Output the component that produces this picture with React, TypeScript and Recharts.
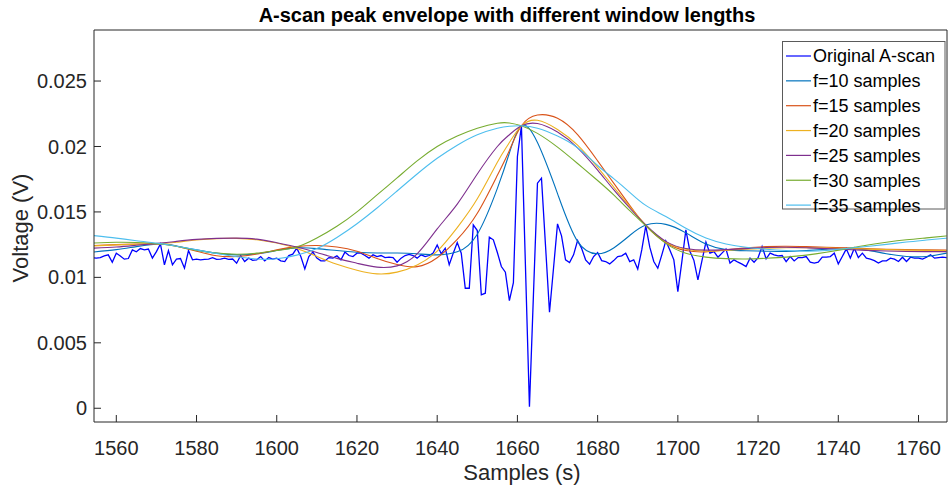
import { LineChart, Line, XAxis, YAxis } from "recharts";

const title = "A-scan peak envelope with different window lengths";
const xLabel = "Samples (s)";
const yLabel = "Voltage (V)";
const xTicks = [1560, 1580, 1600, 1620, 1640, 1660, 1680, 1700, 1720, 1740, 1760];
const yTicks = [0, 0.005, 0.01, 0.015, 0.02, 0.025];
const xDomain = [1554.44, 1767.1];
const yDomain = [-0.00105, 0.0289];

// original trace, one value per sample starting at 1554
const ascanStart = 1554;
const ascan = [
  0.0115, 0.01147, 0.01151, 0.01164, 0.01172, 0.01116, 0.01185, 0.01164, 0.01139, 0.01144,
  0.0121, 0.01195, 0.0122, 0.0121, 0.01216, 0.01147, 0.01197, 0.01256, 0.01096, 0.01205,
  0.01096, 0.01139, 0.01144, 0.0107, 0.01205, 0.01134, 0.01139, 0.01134, 0.01137, 0.0114,
  0.0115, 0.01137, 0.0114, 0.01147, 0.01137, 0.0114, 0.01108, 0.01167, 0.01121, 0.01147,
  0.0113, 0.01134, 0.01159, 0.01126, 0.01151, 0.01139, 0.01147, 0.01126, 0.01121, 0.01167,
  0.01177, 0.01223, 0.01159, 0.01065, 0.01159, 0.01193, 0.01147, 0.01126, 0.01126, 0.01151,
  0.01147, 0.01164, 0.01134, 0.01193, 0.01167, 0.01159, 0.01185, 0.01185, 0.01167, 0.01147,
  0.01172, 0.01159, 0.01167, 0.01151, 0.01154, 0.01151, 0.01116, 0.01147, 0.01167, 0.01176,
  0.01167, 0.01147, 0.01172, 0.01159, 0.01167, 0.01185, 0.01248, 0.0118, 0.01223, 0.01096,
  0.01185, 0.01266, 0.01185, 0.00917, 0.00917, 0.01401, 0.01358, 0.00866, 0.00879, 0.01307,
  0.01287, 0.0119, 0.01083, 0.0104, 0.00823, 0.0096, 0.01924, 0.02158, 0.0109, 0.00012,
  0.0087, 0.0172, 0.01758, 0.01246, 0.00734, 0.0107, 0.01409, 0.01317, 0.01134, 0.01113,
  0.01172, 0.01281, 0.01223, 0.01134, 0.01101, 0.01159, 0.0119, 0.01128, 0.01121, 0.01103,
  0.01128, 0.01159, 0.01164, 0.01185, 0.01121, 0.01134, 0.01063, 0.0121, 0.01394, 0.01231,
  0.01121, 0.0107, 0.01172, 0.01279, 0.0121, 0.01134, 0.00891, 0.0112, 0.01363, 0.012,
  0.0113, 0.00981, 0.01126, 0.01269, 0.01185, 0.01197, 0.01154, 0.01185, 0.01216, 0.01109,
  0.01134, 0.01116, 0.01101, 0.01083, 0.01147, 0.01116, 0.01151, 0.01236, 0.01142, 0.01185,
  0.01172, 0.01164, 0.01167, 0.01121, 0.01159, 0.01126, 0.01151, 0.01151, 0.01159, 0.01116,
  0.01109, 0.01116, 0.01154, 0.01154, 0.01159, 0.01185, 0.01103, 0.01159, 0.01218, 0.01147,
  0.01223, 0.01151, 0.01185, 0.01147, 0.01139, 0.01128, 0.01109, 0.01126, 0.01126, 0.01147,
  0.01139, 0.01121, 0.01154, 0.01121, 0.01154, 0.01147, 0.01147, 0.01139, 0.01154, 0.01172,
  0.01147, 0.01151, 0.01154, 0.01151,
];

// envelope curves, read at these sample positions
const envX = [
  1554, 1560, 1565, 1571, 1575, 1580, 1585, 1590, 1595, 1600, 1605, 1610, 1615, 1620, 1625,
  1630, 1635, 1640, 1645, 1650, 1655, 1658, 1661, 1665, 1670, 1675, 1680, 1684, 1688, 1692,
  1697, 1702, 1707, 1712, 1717, 1722, 1727, 1732, 1737, 1742, 1747, 1752, 1757, 1762, 1767,
];
const f10 = [
  0.01193, 0.01212, 0.01235, 0.01256, 0.0124, 0.0121, 0.01185, 0.01172, 0.0118, 0.01205, 0.01225, 0.0122, 0.01205, 0.01192, 0.01186,
  0.01186, 0.0118, 0.01172, 0.01195, 0.0133, 0.0168, 0.0195, 0.02158, 0.0203, 0.0164, 0.01275, 0.0118, 0.01225, 0.0132, 0.014,
  0.01405, 0.0134, 0.01255, 0.01212, 0.01203, 0.012, 0.01198, 0.01205, 0.01215, 0.01223, 0.0121, 0.0118, 0.0116, 0.0116, 0.01185,
];
const f15 = [
  0.01243, 0.0125, 0.01255, 0.01256, 0.01238, 0.012, 0.01165, 0.0116, 0.01178, 0.0121, 0.01235, 0.01243, 0.01232, 0.012, 0.01145,
  0.01098, 0.01082, 0.0115, 0.0129, 0.0149, 0.0178, 0.0197, 0.02158, 0.0224, 0.02215, 0.0209, 0.0189, 0.0172, 0.0155, 0.01395,
  0.01265, 0.01205, 0.01195, 0.0121, 0.01225, 0.01235, 0.01238, 0.01235, 0.0123, 0.01225, 0.0122, 0.01215, 0.01212, 0.0121, 0.01208,
];
const f20 = [
  0.0124, 0.01248, 0.01253, 0.01258, 0.01268, 0.01285, 0.01296, 0.01298, 0.01288, 0.01262, 0.0122, 0.0116, 0.011, 0.01055, 0.01027,
  0.0104, 0.01095, 0.012, 0.0138, 0.016, 0.0188, 0.0203, 0.02158, 0.022, 0.0213, 0.0201, 0.0184, 0.0169, 0.0154, 0.014,
  0.0127, 0.01215, 0.012, 0.01205, 0.01215, 0.01222, 0.01226, 0.01226, 0.01224, 0.0122, 0.01216, 0.01212, 0.01208, 0.01206, 0.01205,
];
const f25 = [
  0.01223, 0.01232, 0.01245, 0.01262, 0.01275, 0.0129, 0.01298, 0.013, 0.01292, 0.01265, 0.01232, 0.0119, 0.01145, 0.01108, 0.01078,
  0.01088, 0.0118, 0.0137, 0.0156, 0.0179, 0.02, 0.0209, 0.02158, 0.02175, 0.0211, 0.0199, 0.0182, 0.0167, 0.0153, 0.014,
  0.01275, 0.0122, 0.01208, 0.01212, 0.0122, 0.01228, 0.0123, 0.01226, 0.0122, 0.01213, 0.01206, 0.01201, 0.01198, 0.01197, 0.01197,
];
const f30 = [
  0.01262, 0.01268, 0.01266, 0.01256, 0.01238, 0.01206, 0.01185, 0.01177, 0.01185, 0.01205, 0.01232, 0.013, 0.0139, 0.015, 0.0163,
  0.0176, 0.0189, 0.02, 0.0208, 0.0214, 0.02178, 0.0218, 0.02158, 0.021, 0.01995, 0.0187, 0.0174, 0.0163, 0.0151, 0.01395,
  0.0126, 0.01185, 0.01155, 0.01143, 0.0114, 0.01146, 0.01155, 0.0117, 0.01192, 0.01218, 0.01245, 0.01268, 0.01287, 0.01302, 0.01317,
];
const f35 = [
  0.0132, 0.013, 0.0128, 0.01258, 0.01238, 0.0121, 0.01182, 0.01157, 0.0114, 0.01142, 0.0117, 0.0122, 0.01305, 0.0141, 0.0153,
  0.0166, 0.0179, 0.0191, 0.0201, 0.0209, 0.0214, 0.02155, 0.02158, 0.0214, 0.0208, 0.0199, 0.01855, 0.01755, 0.0165, 0.0155,
  0.01465, 0.01375, 0.013, 0.01255, 0.0123, 0.01215, 0.01205, 0.012, 0.01205, 0.0122, 0.01236, 0.01252, 0.0127, 0.01285, 0.013,
];

const envelopes = [
  { name: "f=10 samples", color: "#0072BD", values: f10 },
  { name: "f=15 samples", color: "#D95319", values: f15 },
  { name: "f=20 samples", color: "#EDB120", values: f20 },
  { name: "f=25 samples", color: "#7E2F8E", values: f25 },
  { name: "f=30 samples", color: "#77AC30", values: f30 },
  { name: "f=35 samples", color: "#4DBEEE", values: f35 },
];

const legendItems = [{ name: "Original A-scan", color: "#0000FF" }, ...envelopes];

const ascanData = ascan.map((v, i) => ({ x: ascanStart + i, v }));
const envData = (vals: number[]) => envX.map((x, i) => ({ x, v: vals[i] }));

const axisColor = "#262626";
const font = "'Liberation Sans', Arial, Helvetica, sans-serif";

export default function App() {
  return (
    <div style={{ position: "absolute", left: 0, top: 0, width: 948, height: 487, background: "#fff", fontFamily: font }}>
      <LineChart width={948} height={487} margin={{ top: 29, right: 0, bottom: 0, left: 0 }}>
        <XAxis
          dataKey="x"
          type="number"
          domain={xDomain}
          allowDataOverflow
          ticks={xTicks}
          height={65}
          tickSize={-7}
          tickMargin={26}
          stroke={axisColor}
          tick={{ fill: axisColor, fontSize: 20, fontFamily: font }}
        />
        {/* top and right axes only close the box and carry inward ticks */}
        <XAxis
          xAxisId="top"
          orientation="top"
          dataKey="x"
          type="number"
          domain={xDomain}
          allowDataOverflow
          ticks={xTicks}
          height={1}
          tickSize={-7}
          tick={false}
          stroke={axisColor}
        />
        <YAxis
          type="number"
          domain={yDomain}
          allowDataOverflow
          ticks={yTicks}
          width={94}
          tickSize={-7}
          tickMargin={14}
          stroke={axisColor}
          tick={{ fill: axisColor, fontSize: 20, fontFamily: font }}
        />
        <YAxis
          yAxisId="right"
          orientation="right"
          type="number"
          domain={yDomain}
          allowDataOverflow
          ticks={yTicks}
          width={1}
          tickSize={-7}
          tick={false}
          stroke={axisColor}
        />
        <Line
          data={ascanData}
          xAxisId="top"
          yAxisId="right"
          dataKey="v"
          type="linear"
          stroke="#0000FF"
          strokeWidth={1.3}
          dot={false}
          activeDot={false}
          isAnimationActive={false}
        />
        {envelopes.map((s) => (
          <Line
            key={s.name}
            data={envData(s.values)}
            dataKey="v"
            name={s.name}
            type="natural"
            stroke={s.color}
            strokeWidth={1.1}
            dot={false}
            activeDot={false}
            isAnimationActive={false}
          />
        ))}
      </LineChart>

      <svg width={948} height={487} style={{ position: "absolute", left: 0, top: 0, pointerEvents: "none" }}>
        <text x={507} y={21.5} textAnchor="middle" fontWeight="bold" fontSize={20} fill="#000" fontFamily={font}>
          {title}
        </text>
        <text x={522} y={480} textAnchor="middle" fontSize={22} fill={axisColor} fontFamily={font}>
          {xLabel}
        </text>
        <text
          x={27.5}
          y={228}
          textAnchor="middle"
          fontSize={22}
          fill={axisColor}
          fontFamily={font}
          transform="rotate(-90 27.5 228)"
        >
          {yLabel}
        </text>
        <rect x={782.5} y={41.5} width={162.5} height={167.5} fill="#fff" stroke="#5a5a5a" strokeWidth={1} />
        {legendItems.map((item, i) => {
          const cy = 56 + i * 24.85;
          return (
            <g key={item.name}>
              <line x1={786} x2={811} y1={cy} y2={cy} stroke={item.color} strokeWidth={1.2} />
              <text x={813} y={cy + 6.4} fontSize={18} fill="#000" fontFamily={font}>
                {item.name}
              </text>
            </g>
          );
        })}
      </svg>
    </div>
  );
}
